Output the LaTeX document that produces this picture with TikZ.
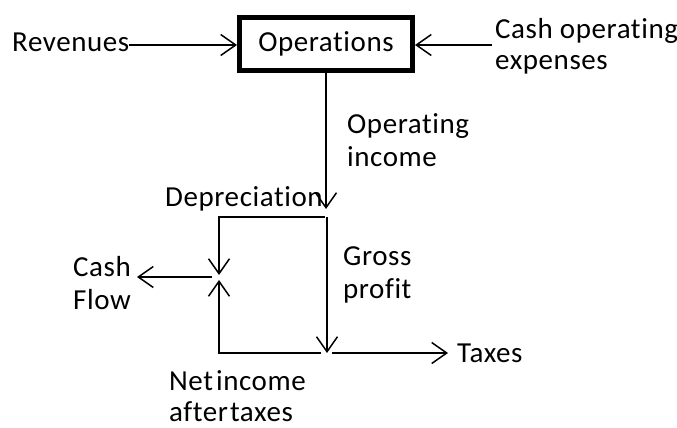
\documentclass[tikz,border=0pt]{standalone}
\usepackage{fontspec}
\setmainfont[Ligatures=NoCommon,LetterSpace=2]{Carlito}
\usetikzlibrary{arrows.meta}
\begin{document}
\begin{tikzpicture}[x=1pt,y=-1pt,
  lbl/.style={anchor=base west,inner sep=0pt,font=\fontsize{29}{33}\selectfont},
  arr/.style={line width=1.5pt,-{Straight Barb[length=15pt,width=21pt,line width=1.5pt]}},
  opbox/.style={draw,line width=5pt,minimum width=173pt,minimum height=53pt,inner sep=0pt,font=\fontsize{29}{33}\selectfont}]
\useasboundingbox (0,0) rectangle (677,428);
% nodes
\node[opbox] (ops) at (326,44) {Operations};
\node[lbl] (rev) at (12,52) {Revenues};
\node[lbl] (cash1) at (495,38) {Cash operating};
\node[lbl] (cash2) at (495,70) {expenses};
\node[lbl] (opinc1) at (347,133) {Operating};
\node[lbl] (opinc2) at (347,166) {income};
\node[lbl] (dep) at (165,206) {Depreciation};
\node[lbl] (gross1) at (343,265) {Gross};
\node[lbl] (gross2) at (343,298) {profit};
\node[lbl] (cf1) at (73,276) {Cash};
\node[lbl] (cf2) at (73,309) {Flow};
\node[lbl] (tax) at (457,362) {Taxes};
\node[lbl] (ni1) at (169,390) {Net\hspace{3pt}income};
\node[lbl] (ni2) at (169,421) {after\hspace{2pt}taxes};
% coordinates
\coordinate (oiend) at (326,209);
\coordinate (tr) at (325,217);
\coordinate (tl) at (219,217);
\coordinate (mtop) at (219,275);
\coordinate (mbot) at (219,280);
\coordinate (bl) at (219,353);
\coordinate (br) at (321,353);
\coordinate (gtop) at (327,217);
\coordinate (gend) at (327,353);
\coordinate (cfstart) at (212,277);
\coordinate (cfend) at (137,277);
\coordinate (txstart) at (332,353);
\coordinate (txend) at (448,353);
% connectors
\draw[arr] (rev.east |- 0,45) -- (ops.west |- 0,45);
\draw[arr] ([xshift=-3pt]cash1.west |- 0,45) -- (ops.east |- 0,45);
\draw[arr] (ops.south) -- (oiend);
\draw[arr] (tr) -- (tl) -- (mtop);
\draw[arr] (br) -- (bl) -- (mbot);
\draw[arr] (gtop) -- (gend);
\draw[arr] (cfstart) -- (cfend);
\draw[arr] (txstart) -- (txend);
\end{tikzpicture}
\end{document}
